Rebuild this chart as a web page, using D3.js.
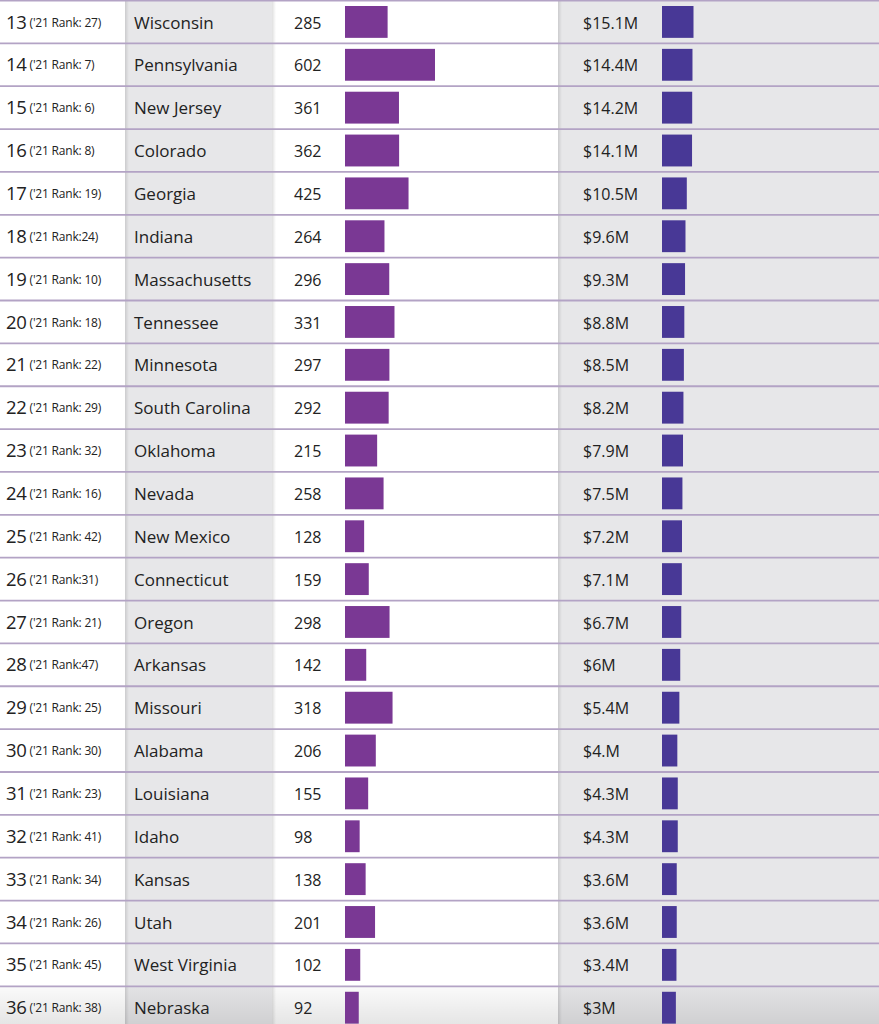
<!DOCTYPE html>
<html>
<head>
<meta charset="utf-8">
<script src="https://cdn.jsdelivr.net/npm/d3@7"></script>
<style>
  html, body { margin: 0; padding: 0; background: #ffffff; }
  svg { display: block; }
  text { font-family: 'Open Sans', 'Noto Sans', sans-serif; fill: #222222; }
</style>
</head>
<body>
<div id="chart"></div>
<script>
'use strict'

const WIDTH = 879
const HEIGHT = 1024

const ranks = [13, 14, 15, 16, 17, 18, 19, 20, 21, 22, 23, 24, 25, 26, 27, 28, 29, 30, 31, 32, 33, 34, 35, 36]
const prevRankLabels = [
  "('21 Rank: 27)", "('21 Rank: 7)", "('21 Rank: 6)", "('21 Rank: 8)",
  "('21 Rank: 19)", "('21 Rank:24)", "('21 Rank: 10)", "('21 Rank: 18)",
  "('21 Rank: 22)", "('21 Rank: 29)", "('21 Rank: 32)", "('21 Rank: 16)",
  "('21 Rank: 42)", "('21 Rank:31)", "('21 Rank: 21)", "('21 Rank:47)",
  "('21 Rank: 25)", "('21 Rank: 30)", "('21 Rank: 23)", "('21 Rank: 41)",
  "('21 Rank: 34)", "('21 Rank: 26)", "('21 Rank: 45)", "('21 Rank: 38)"
]
const states = [
  'Wisconsin', 'Pennsylvania', 'New Jersey', 'Colorado', 'Georgia', 'Indiana',
  'Massachusetts', 'Tennessee', 'Minnesota', 'South Carolina', 'Oklahoma', 'Nevada',
  'New Mexico', 'Connecticut', 'Oregon', 'Arkansas', 'Missouri', 'Alabama',
  'Louisiana', 'Idaho', 'Kansas', 'Utah', 'West Virginia', 'Nebraska'
]
const counts = [285, 602, 361, 362, 425, 264, 296, 331, 297, 292, 215, 258, 128, 159, 298, 142, 318, 206, 155, 98, 138, 201, 102, 92]
const amounts = [15.1, 14.4, 14.2, 14.1, 10.5, 9.6, 9.3, 8.8, 8.5, 8.2, 7.9, 7.5, 7.2, 7.1, 6.7, 6, 5.4, 4, 4.3, 4.3, 3.6, 3.6, 3.4, 3]
const amountLabels = ['$15.1M', '$14.4M', '$14.2M', '$14.1M', '$10.5M', '$9.6M', '$9.3M', '$8.8M', '$8.5M', '$8.2M', '$7.9M', '$7.5M', '$7.2M', '$7.1M', '$6.7M', '$6M', '$5.4M', '$4.M', '$4.3M', '$4.3M', '$3.6M', '$3.6M', '$3.4M', '$3M']

const countColor = '#7a3894'
const amountColor = '#483896'
const grayColumn = '#e7e7e9'
const lineColor = '#b3a3c5'

const rows = ranks.map((rank, i) => ({
  rank: rank,
  prev: prevRankLabels[i],
  state: states[i],
  count: counts[i],
  amount: amounts[i],
  amountLabel: amountLabels[i]
}))

const svg = d3.select('#chart')
  .append('svg')
  .attr('width', WIDTH)
  .attr('height', HEIGHT)

const defs = svg.append('defs')
const shade = defs.append('linearGradient')
  .attr('id', 'bottom-shade')
  .attr('x1', 0).attr('y1', 0).attr('x2', 0).attr('y2', 1)
shade.append('stop').attr('offset', '0%').attr('stop-color', '#000').attr('stop-opacity', 0.02)
shade.append('stop').attr('offset', '100%').attr('stop-color', '#000').attr('stop-opacity', 0.1)

const edge = defs.append('linearGradient')
  .attr('id', 'edge-shadow')
  .attr('x1', 0).attr('y1', 0).attr('x2', 1).attr('y2', 0)
edge.append('stop').attr('offset', '0%').attr('stop-color', '#000').attr('stop-opacity', 0.12)
edge.append('stop').attr('offset', '100%').attr('stop-color', '#000').attr('stop-opacity', 0)

// columns: rank | state | count | amount
const columns = [
  { x: 0, w: 125, fill: '#ffffff' },
  { x: 125, w: 147, fill: grayColumn },
  { x: 272, w: 286, fill: '#ffffff' },
  { x: 558, w: WIDTH - 558, fill: grayColumn }
]

svg.append('g')
  .selectAll('rect')
  .data(columns)
  .join('rect')
  .attr('x', (d) => d.x)
  .attr('y', 0)
  .attr('width', (d) => d.w)
  .attr('height', HEIGHT)
  .attr('fill', (d) => d.fill)

// soft shadows at column edges
svg.append('g')
  .selectAll('rect')
  .data([125, 272, 558])
  .join('rect')
  .attr('x', (d) => d)
  .attr('y', 0)
  .attr('width', 4)
  .attr('height', HEIGHT)
  .attr('fill', 'url(#edge-shadow)')

const y = d3.scaleBand()
  .domain(ranks)
  .range([0.5, 0.5 + ranks.length * 42.86])
  .paddingInner(0)

const xCount = d3.scaleLinear().domain([0, 602]).range([0, 90])
const xAmount = d3.scaleLinear().domain([0, 15.1]).range([9.5, 31.5])

const countBarX = 345
const amountBarX = 662
const barPad = 5.5

// bottom row shading
svg.append('rect')
  .attr('x', 0)
  .attr('y', y(36))
  .attr('width', WIDTH)
  .attr('height', HEIGHT - y(36))
  .attr('fill', 'url(#bottom-shade)')

// row separators
svg.append('g')
  .selectAll('line')
  .data(ranks)
  .join('line')
  .attr('x1', 0)
  .attr('x2', WIDTH)
  .attr('y1', (d) => y(d))
  .attr('y2', (d) => y(d))
  .attr('stroke', lineColor)
  .attr('stroke-width', 1.8)

const row = svg.append('g')
  .selectAll('g')
  .data(rows)
  .join('g')
  .attr('transform', (d) => `translate(0, ${y(d.rank)})`)

const baseline = 28

row.append('text')
  .attr('x', 6)
  .attr('y', baseline)
row.each(function (d) {
  const t = d3.select(this).select('text')
  t.append('tspan')
    .attr('font-size', 18.5)
    .attr('letter-spacing', -0.3)
    .text(d.rank)
  t.append('tspan')
    .attr('font-size', 12)
    .attr('dx', 3)
    .attr('dy', -2)
    .attr('letter-spacing', -0.2)
    .text(d.prev)
})

row.append('text')
  .attr('x', 134)
  .attr('y', baseline)
  .attr('font-size', 17)
  .text((d) => d.state)

row.append('text')
  .attr('x', 294)
  .attr('y', baseline)
  .attr('font-size', 16)
  .text((d) => d.count)

row.append('rect')
  .attr('x', countBarX)
  .attr('y', barPad)
  .attr('width', (d) => xCount(d.count))
  .attr('height', y.bandwidth() - barPad * 2)
  .attr('fill', countColor)

row.append('text')
  .attr('x', 583)
  .attr('y', baseline)
  .attr('font-size', 16)
  .text((d) => d.amountLabel)

row.append('rect')
  .attr('x', amountBarX)
  .attr('y', barPad)
  .attr('width', (d) => xAmount(d.amount))
  .attr('height', y.bandwidth() - barPad * 2)
  .attr('fill', amountColor)
</script>
</body>
</html>
